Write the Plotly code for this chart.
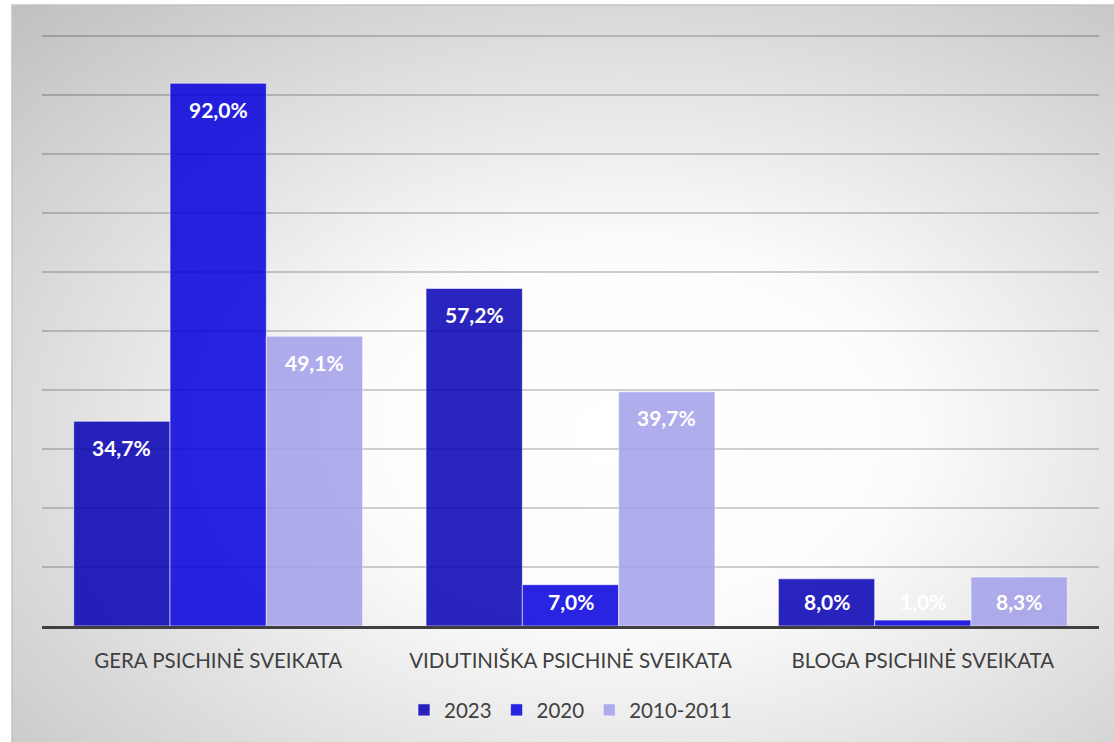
import base64

import plotly.graph_objects as go

# Duomenys
kategorijos = ["GERA PSICHINĖ SVEIKATA", "VIDUTINIŠKA PSICHINĖ SVEIKATA", "BLOGA PSICHINĖ SVEIKATA"]
metai = ["2023", "2020", "2010-2011"]
reiksmes_2023 = [34.7, 57.2, 8.0]
reiksmes_2020 = [92.0, 7.0, 1.0]
reiksmes_2010 = [49.1, 39.7, 8.3]

spalvos = ["rgba(7,0,180,0.86)", "rgba(5,0,221,0.86)", "rgba(162,160,233,0.86)"]
teksto_spalva = "#404040"
sriftas = "Lato, 'Noto Sans', sans-serif"

# Radialinis fono gradientas (SVG kaip data URI)
svg = (
    '<svg xmlns="http://www.w3.org/2000/svg" width="1102" height="737" '
    'viewBox="0 0 1102 737" preserveAspectRatio="none">'
    '<defs><radialGradient id="g" cx="0.56" cy="0.58" r="0.84">'
    '<stop offset="0" stop-color="#ffffff"/>'
    '<stop offset="0.3" stop-color="#fcfcfc"/>'
    '<stop offset="1" stop-color="#bcbcbc"/>'
    "</radialGradient></defs>"
    '<rect width="1102" height="737" fill="url(#g)"/></svg>'
)
fonas = "data:image/svg+xml;base64," + base64.b64encode(svg.encode()).decode()

fig = go.Figure()
serijos = [reiksmes_2023, reiksmes_2020, reiksmes_2010]
for pav, vals, sp in zip(metai, serijos, spalvos):
    fig.add_trace(
        go.Bar(
            x=kategorijos,
            y=vals,
            name=pav,
            marker=dict(color=sp, line=dict(color="rgba(255,255,255,0.55)", width=1)),
            hoverinfo="skip",
        )
    )

# Reikšmių etiketės bare viršuje
poslinkis = [-0.2733, 0.0, 0.2733]
for s, vals in enumerate(serijos):
    for i, v in enumerate(vals):
        fig.add_annotation(
            x=i + poslinkis[s],
            y=max(v - 4.4, 4.1),
            xref="x",
            yref="y",
            text=f"<b>{v:.1f}%</b>".replace(".", ","),
            showarrow=False,
            yanchor="middle",
            font=dict(family=sriftas, size=21, color="white"),
        )

fig.update_layout(
    width=1114,
    height=742,
    margin=dict(l=42, r=15, t=34, b=116),
    paper_bgcolor="white",
    plot_bgcolor="rgba(0,0,0,0)",
    barmode="group",
    bargap=0.18,
    bargroupgap=0,
    showlegend=True,
    legend=dict(
        orientation="h",
        x=0.5,
        xanchor="center",
        y=-0.142,
        yanchor="middle",
        font=dict(family=sriftas, size=20.5, color=teksto_spalva),
        bgcolor="rgba(0,0,0,0)",
    ),
    font=dict(family=sriftas, color=teksto_spalva),
    images=[
        dict(
            source=fonas,
            xref="paper",
            yref="paper",
            x=-0.0284,
            y=1.049,
            sizex=1.0426,
            sizey=1.245,
            sizing="stretch",
            xanchor="left",
            yanchor="top",
            layer="below",
        )
    ],
    shapes=[
        dict(
            type="rect",
            xref="paper",
            yref="paper",
            x0=-0.0284,
            x1=1.02,
            y0=-0.3,
            y1=1.049,
            line=dict(color="#c4c4c4", width=1.5),
            layer="below",
        )
    ],
)

fig.update_xaxes(
    showgrid=False,
    showline=True,
    linecolor="#404040",
    linewidth=3,
    ticks="outside",
    ticklen=14,
    tickcolor="rgba(0,0,0,0)",
    tickfont=dict(family=sriftas, size=20.5, color=teksto_spalva),
)
fig.update_yaxes(
    range=[0, 100.34],
    dtick=10,
    showticklabels=False,
    showgrid=True,
    gridcolor="rgba(0,0,0,0.19)",
    gridwidth=1.5,
    zeroline=False,
)

fig.write_html(
    "out.html",
    config={"displayModeBar": False},
    post_script="document.body.style.margin='0';",
)
